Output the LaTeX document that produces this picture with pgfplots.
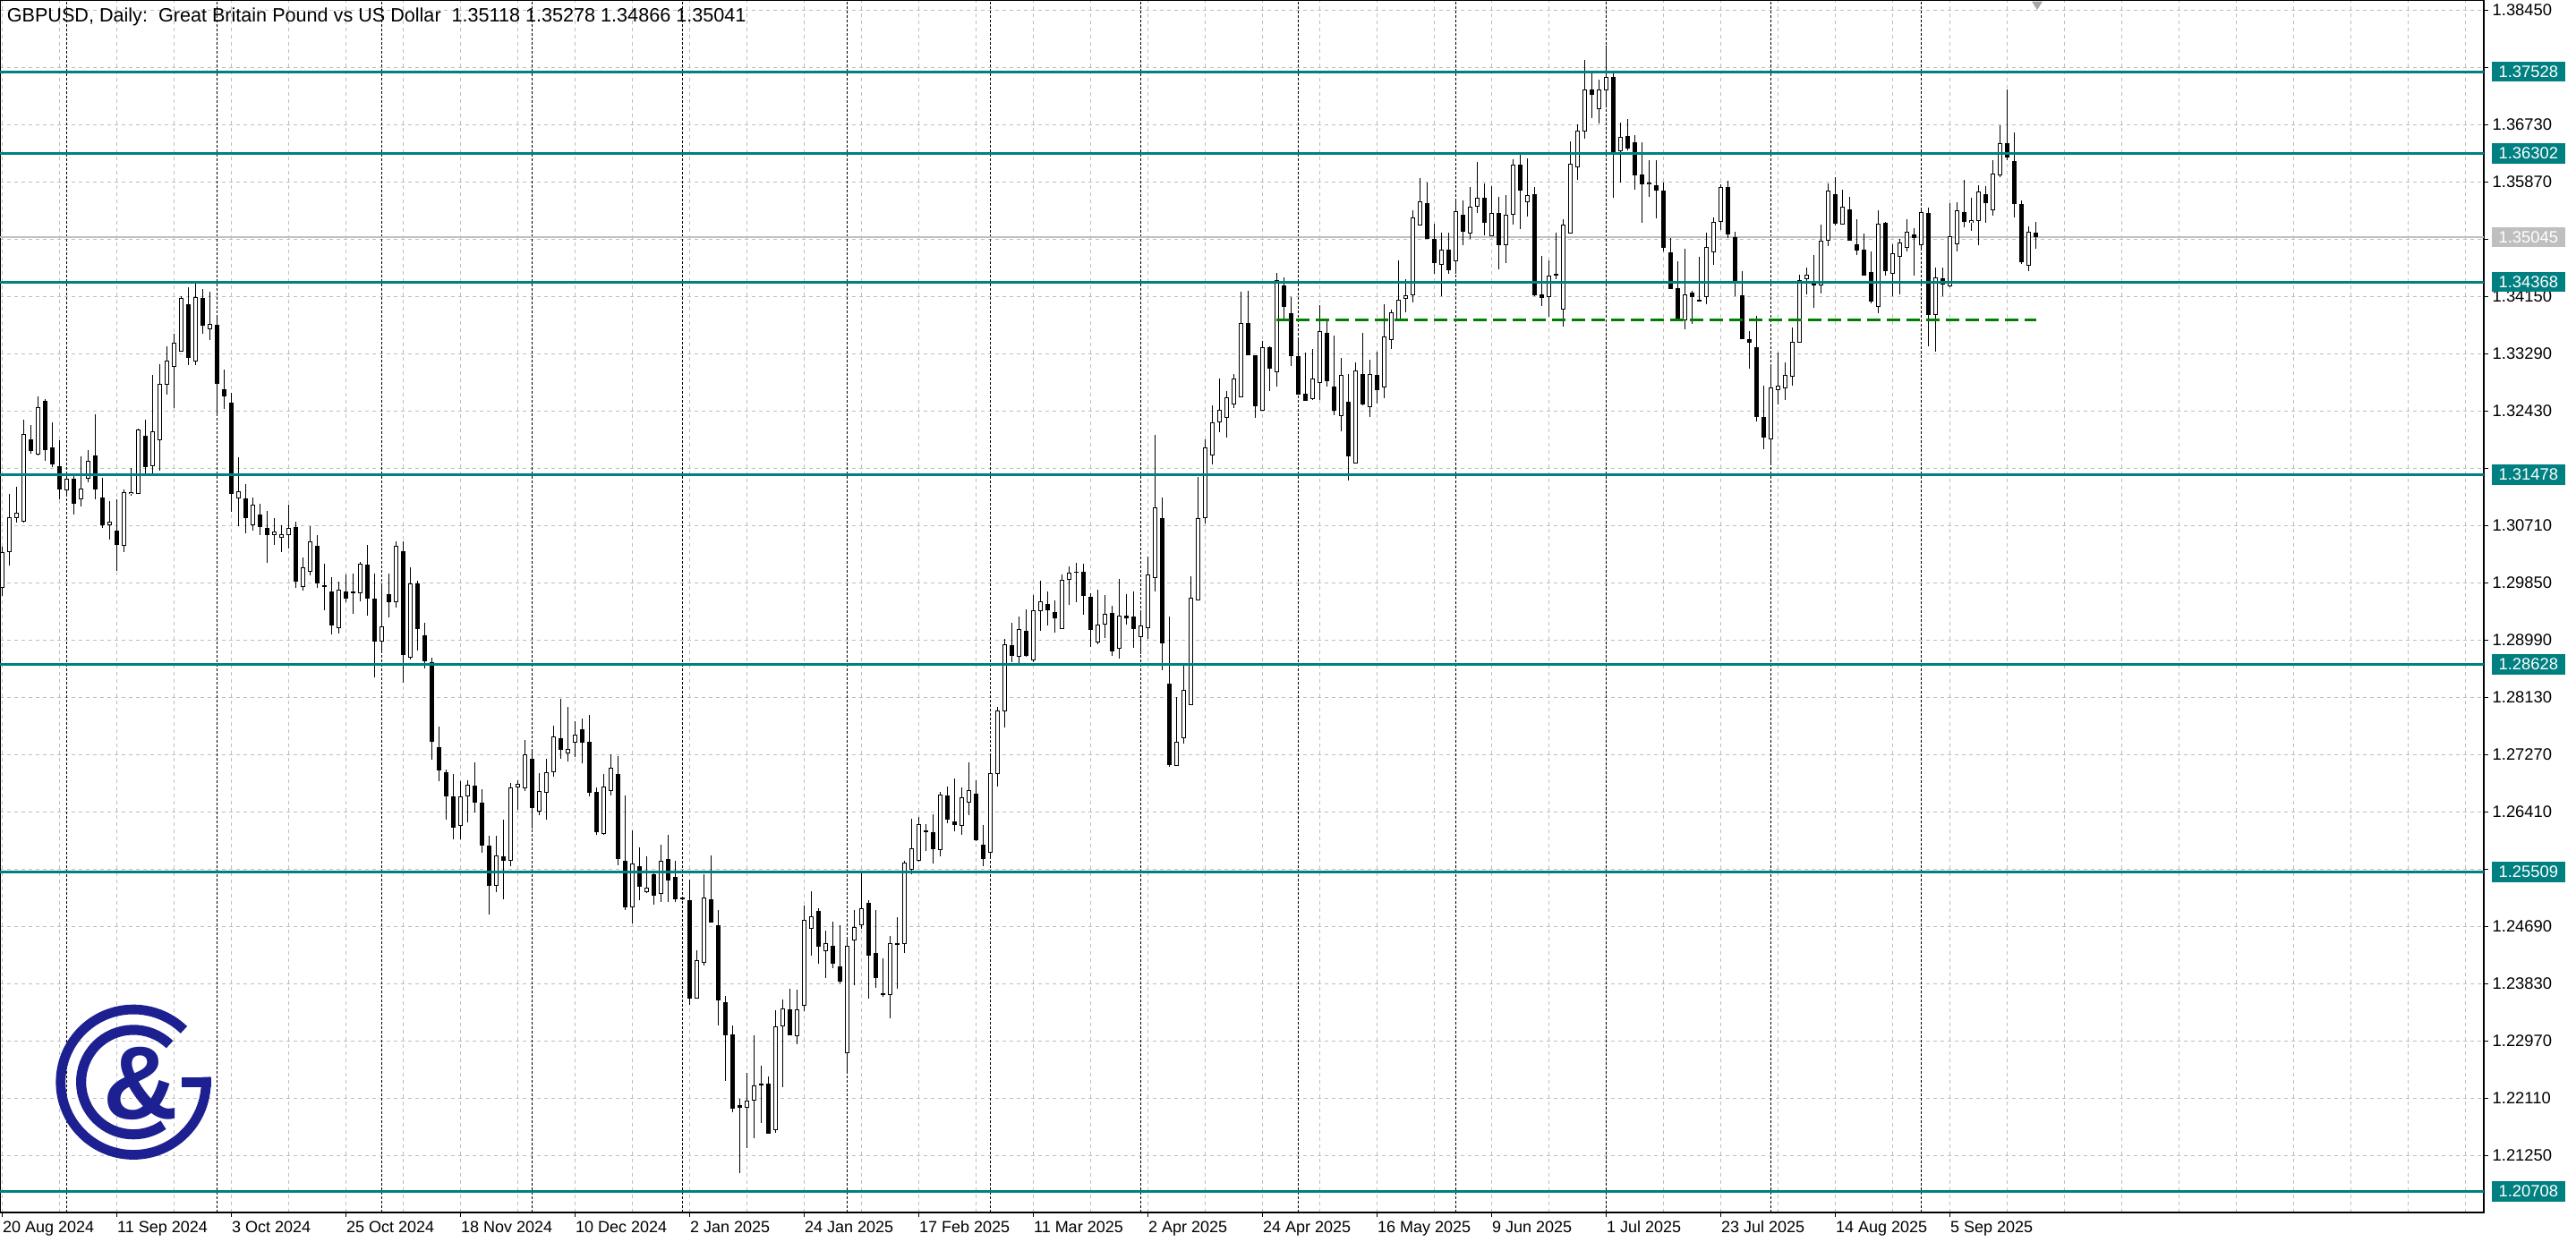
\documentclass[border=0pt]{standalone}
\usepackage{fontspec}
\setmainfont{Liberation Sans}
\usepackage{pgfplots}
\usepackage{pgfplotstable}
\pgfplotsset{compat=1.18}
\definecolor{mtteal}{RGB}{0,128,128}
\definecolor{mtgreen}{RGB}{0,128,0}
\definecolor{mtgrid}{RGB}{190,190,190}
\definecolor{logoblue}{RGB}{28,32,145}

\pgfplotstableread{
i o h l c
0 1.2977 1.3040 1.2965 1.3031
1 1.30309 1.31182 1.30107 1.30833
2 1.30820 1.31290 1.30757 1.30900
3 1.30766 1.32298 1.30757 1.32088
4 1.32007 1.32226 1.31796 1.31828
5 1.31774 1.32648 1.31765 1.32491
6 1.32580 1.32616 1.31684 1.31841
7 1.31882 1.32258 1.31595 1.31626
8 1.31604 1.31994 1.31102 1.31259
9 1.31236 1.31483 1.31169 1.31416
10 1.31416 1.31460 1.30878 1.31035
11 1.31102 1.31752 1.30999 1.31272
12 1.31416 1.31850 1.31357 1.31684
13 1.31765 1.32379 1.31102 1.31259
14 1.31133 1.31425 1.30676 1.30721
15 1.30712 1.31080 1.30497 1.30766
16 1.30632 1.31102 1.30027 1.30417
17 1.30408 1.31259 1.30318 1.31214
18 1.31183 1.31572 1.31156 1.31214
19 1.31192 1.32164 1.31183 1.32155
20 1.32056 1.32298 1.31483 1.31595
21 1.31604 1.32975 1.31483 1.32123
22 1.31989 1.33140 1.31541 1.32836
23 1.32827 1.33400 1.32683 1.33185
24 1.33096 1.33588 1.32482 1.33454
25 1.33329 1.34157 1.33320 1.34126
26 1.34036 1.34292 1.33127 1.33230
27 1.33172 1.34350 1.33127 1.34139
28 1.34126 1.34269 1.33597 1.33709
29 1.33656 1.34225 1.33499 1.33736
30 1.33723 1.33880 1.32379 1.32836
31 1.32760 1.33051 1.32459 1.32657
32 1.32558 1.32701 1.30923 1.31192
33 1.31124 1.31738 1.30699 1.31227
34 1.31115 1.31335 1.30600 1.30820
35 1.30712 1.31133 1.30641 1.31021
36 1.30878 1.31035 1.30564 1.30690
37 1.30676 1.30932 1.30148 1.30564
38 1.30564 1.30820 1.30417 1.30618
39 1.30533 1.30721 1.30309 1.30578
40 1.30564 1.31021 1.30363 1.30676
41 1.30690 1.30766 1.29771 1.29870
42 1.29794 1.30237 1.29736 1.30085
43 1.30013 1.30708 1.29969 1.30475
44 1.30408 1.30573 1.29771 1.29839
45 1.29812 1.30139 1.29444 1.29798
46 1.29722 1.29937 1.29073 1.29207
47 1.29167 1.29870 1.29086 1.29749
48 1.29722 1.29973 1.29556 1.29610
49 1.29695 1.29995 1.29385 1.29721
50 1.29690 1.30169 1.29578 1.30138
51 1.30125 1.30420 1.29363 1.29609
52 1.29614 1.29990 1.28436 1.28973
53 1.28973 1.29802 1.28839 1.29197
54 1.29681 1.29990 1.29332 1.29556
55 1.29556 1.30474 1.29475 1.30407
56 1.30326 1.30474 1.28346 1.28772
57 1.28727 1.30084 1.28704 1.29847
58 1.29847 1.29878 1.28839 1.29161
59 1.29063 1.29251 1.28570 1.28669
60 1.28660 1.28727 1.27190 1.27459
61 1.27383 1.27696 1.26868 1.27033
62 1.27000 1.27050 1.26300 1.26650
63 1.26650 1.26980 1.26000 1.26170
64 1.26200 1.26870 1.26000 1.26650
65 1.26650 1.26890 1.26250 1.26820
66 1.26800 1.27150 1.26400 1.26550
67 1.26550 1.26750 1.25800 1.25900
68 1.25900 1.26050 1.24870 1.25300
69 1.25300 1.26050 1.25200 1.25750
70 1.25750 1.26300 1.25100 1.25680
71 1.25681 1.26850 1.25600 1.26778
72 1.26778 1.26890 1.26442 1.26836
73 1.26769 1.27495 1.26724 1.27271
74 1.27204 1.27352 1.26164 1.26474
75 1.26420 1.26993 1.26366 1.26720
76 1.26702 1.27204 1.26299 1.27002
77 1.27002 1.27706 1.26935 1.27540
78 1.27517 1.28109 1.27213 1.27347
79 1.27284 1.27988 1.27172 1.27361
80 1.27450 1.27773 1.27235 1.27576
81 1.27652 1.27809 1.27137 1.27450
82 1.27464 1.27867 1.26644 1.26698
83 1.26711 1.26778 1.26070 1.26106
84 1.26075 1.26980 1.26061 1.26792
85 1.26724 1.27271 1.26657 1.27069
86 1.26980 1.27249 1.25613 1.25703
87 1.25681 1.26653 1.24941 1.24977
88 1.24977 1.26129 1.24740 1.25636
89 1.25591 1.25873 1.25089 1.25291
90 1.25210 1.25739 1.25188 1.25268
91 1.25479 1.25524 1.25017 1.25156
92 1.25174 1.25918 1.25053 1.25681
93 1.25703 1.26061 1.25053 1.25376
94 1.25434 1.25681 1.25053 1.25098
95 1.25120 1.25130 1.25090 1.25110
96 1.25085 1.25399 1.23517 1.23611
97 1.23611 1.24328 1.23611 1.24180
98 1.24149 1.25479 1.24099 1.25121
99 1.25098 1.25757 1.24753 1.24753
100 1.24709 1.24933 1.23208 1.23584
101 1.23553 1.23642 1.22375 1.23060
102 1.23069 1.23203 1.21904 1.21949
103 1.22007 1.22097 1.20990 1.21971
104 1.21962 1.22491 1.21358 1.22074
105 1.22074 1.23060 1.21514 1.22298
106 1.22321 1.22603 1.21738 1.22321
107 1.22330 1.22433 1.21582 1.21582
108 1.21635 1.23432 1.21595 1.23185
109 1.23194 1.23598 1.22276 1.23463
110 1.23441 1.23750 1.23060 1.23060
111 1.23038 1.23741 1.22926 1.23441
112 1.23495 1.25009 1.23418 1.24785
113 1.24650 1.25219 1.24256 1.24839
114 1.24919 1.24964 1.24135 1.24391
115 1.24314 1.24628 1.23920 1.24435
116 1.24395 1.24762 1.24068 1.24126
117 1.24090 1.24704 1.23831 1.23866
118 1.22791 1.24529 1.22487 1.24404
119 1.24486 1.24931 1.23804 1.24681
120 1.24713 1.25500 1.24659 1.24963
121 1.25045 1.25091 1.23604 1.24258
122 1.24286 1.24931 1.23763 1.23917
123 1.23690 1.24213 1.23636 1.23658
124 1.23667 1.24545 1.23317 1.24440
125 1.24431 1.24831 1.23758 1.24436
126 1.24431 1.25682 1.24295 1.25650
127 1.25536 1.26305 1.25477 1.25864
128 1.25682 1.26341 1.25668 1.26227
129 1.26136 1.26227 1.25827 1.26105
130 1.26105 1.26377 1.25636 1.25850
131 1.25841 1.26714 1.25741 1.26673
132 1.26659 1.26787 1.26241 1.26296
133 1.26264 1.26909 1.26123 1.26214
134 1.26205 1.26773 1.26068 1.26627
135 1.26546 1.27159 1.26364 1.26737
136 1.26682 1.26887 1.25977 1.25986
137 1.25923 1.26214 1.25600 1.25704
138 1.25804 1.27250 1.25736 1.26991
139 1.26987 1.27992 1.26796 1.27932
140 1.27923 1.29015 1.27682 1.28933
141 1.28919 1.29251 1.28660 1.28760
142 1.28742 1.29350 1.28650 1.29160
143 1.29128 1.29458 1.28737 1.28760
144 1.28688 1.29667 1.28663 1.29433
145 1.29423 1.29880 1.29135 1.29572
146 1.29533 1.29721 1.29209 1.29443
147 1.29418 1.29592 1.29110 1.29319
148 1.29160 1.29980 1.29160 1.29895
149 1.29895 1.30104 1.29518 1.30005
150 1.30024 1.30154 1.29557 1.30005
151 1.30015 1.30139 1.29369 1.29657
152 1.29642 1.29692 1.28886 1.29145
153 1.28951 1.29746 1.28936 1.29219
154 1.29219 1.29667 1.29021 1.29383
155 1.29398 1.29508 1.28752 1.28822
156 1.28862 1.29915 1.28712 1.29359
157 1.29359 1.29682 1.29219 1.29319
158 1.29349 1.29721 1.28872 1.29160
159 1.29036 1.29408 1.28777 1.29209
160 1.29175 1.30253 1.29011 1.29980
161 1.29930 1.32077 1.29716 1.30989
162 1.30825 1.31138 1.28539 1.28946
163 1.28340 1.29344 1.27082 1.27112
164 1.27107 1.28141 1.27107 1.27460
165 1.27520 1.28613 1.27435 1.28250
166 1.28017 1.29955 1.28017 1.29632
167 1.29592 1.31446 1.29592 1.30825
168 1.30820 1.32011 1.30750 1.31885
169 1.31760 1.32521 1.31630 1.32257
170 1.32257 1.32916 1.32118 1.32445
171 1.32324 1.32727 1.32029 1.32638
172 1.32535 1.32983 1.32481 1.32916
173 1.32638 1.34224 1.32638 1.33753
174 1.33753 1.34237 1.33265 1.33274
175 1.33265 1.33265 1.32333 1.32499
176 1.32432 1.33485 1.32432 1.33386
177 1.33395 1.33408 1.32736 1.33063
178 1.33014 1.34506 1.32804 1.34394
179 1.34318 1.34439 1.33812 1.33991
180 1.33901 1.34148 1.33104 1.33252
181 1.33261 1.33498 1.32683 1.32683
182 1.32692 1.33310 1.32580 1.32580
183 1.32611 1.33364 1.32602 1.32916
184 1.32848 1.34027 1.32602 1.33632
185 1.33601 1.33798 1.32804 1.32884
186 1.32795 1.33565 1.32365 1.32432
187 1.32356 1.33229 1.32123 1.32969
188 1.32566 1.32983 1.31392 1.31751
189 1.31639 1.33162 1.31639 1.33037
190 1.32992 1.33601 1.32512 1.32535
191 1.32490 1.33200 1.32350 1.32983
192 1.32980 1.33320 1.32550 1.32750
193 1.32780 1.34036 1.32620 1.33553
194 1.33499 1.33956 1.33364 1.33911
195 1.33812 1.34695 1.33777 1.34104
196 1.34113 1.34408 1.33911 1.34171
197 1.34171 1.35448 1.34059 1.35336
198 1.35215 1.35927 1.35215 1.35582
199 1.35551 1.35864 1.35022 1.35022
200 1.35013 1.35246 1.34498 1.34650
201 1.34632 1.35112 1.34157 1.34852
202 1.34856 1.35112 1.34493 1.34543
203 1.34686 1.35595 1.34498 1.35434
204 1.35380 1.35595 1.34923 1.35121
205 1.35103 1.35797 1.35022 1.35501
206 1.35501 1.36173 1.35403 1.35640
207 1.35636 1.35851 1.35076 1.35255
208 1.35053 1.35806 1.35053 1.35403
209 1.35403 1.35649 1.34565 1.34919
210 1.34919 1.35681 1.34650 1.35380
211 1.35380 1.36218 1.35237 1.36133
212 1.36133 1.36276 1.35165 1.35739
213 1.35573 1.36232 1.35358 1.35681
214 1.35694 1.35793 1.34157 1.34171
215 1.34179 1.34762 1.34014 1.34126
216 1.34139 1.34699 1.33843 1.34462
217 1.34484 1.35111 1.34417 1.34480
218 1.33955 1.35313 1.33700 1.35232
219 1.35098 1.36487 1.35098 1.36142
220 1.36097 1.36733 1.35909 1.36643
221 1.36634 1.37710 1.36522 1.37262
222 1.37262 1.37508 1.36836 1.37185
223 1.36961 1.37409 1.36755 1.37262
224 1.37253 1.37920 1.36993 1.37450
225 1.37450 1.37508 1.35640 1.36321
226 1.36330 1.36760 1.35864 1.36545
227 1.36558 1.36814 1.36352 1.36379
228 1.36469 1.36576 1.35761 1.35976
229 1.35985 1.36469 1.35259 1.35837
230 1.35837 1.36200 1.35649 1.35864
231 1.35828 1.36200 1.35326 1.35738
232 1.35747 1.35859 1.34833 1.34887
233 1.34811 1.35035 1.34260 1.34260
234 1.34273 1.34677 1.33799 1.33799
235 1.33799 1.34874 1.33655 1.34181
236 1.34206 1.34238 1.33745 1.34148
237 1.34094 1.34753 1.34072 1.34090
238 1.34139 1.35111 1.34036 1.34896
239 1.34820 1.35344 1.34628 1.35268
240 1.35268 1.35837 1.35147 1.35797
241 1.35797 1.35886 1.35035 1.35089
242 1.35044 1.35120 1.34162 1.34386
243 1.34171 1.34529 1.33508 1.33508
244 1.33508 1.33633 1.33073 1.33454
245 1.33387 1.33866 1.32276 1.32347
246 1.32343 1.32813 1.31863 1.32029
247 1.32011 1.33118 1.31617 1.32782
248 1.32750 1.33310 1.32535 1.32818
249 1.32768 1.33163 1.32603 1.32970
250 1.32952 1.33687 1.32818 1.33467
251 1.33454 1.34484 1.33454 1.34404
252 1.34408 1.34587 1.34184 1.34475
253 1.34350 1.34775 1.33990 1.34314
254 1.34314 1.35232 1.34202 1.34986
255 1.34986 1.35851 1.34910 1.35739
256 1.35685 1.35940 1.35214 1.35246
257 1.35237 1.35752 1.35237 1.35506
258 1.35456 1.35649 1.34986 1.34986
259 1.34932 1.35313 1.34775 1.34843
260 1.34856 1.35102 1.34462 1.34462
261 1.34516 1.34829 1.34050 1.34081
262 1.33991 1.35448 1.33902 1.35240
263 1.35255 1.35269 1.34471 1.34538
264 1.34498 1.34933 1.34162 1.34798
265 1.34744 1.35022 1.34180 1.34968
266 1.34888 1.35313 1.34830 1.35121
267 1.35080 1.35179 1.34471 1.35031
268 1.34919 1.35493 1.34843 1.35425
269 1.35403 1.35493 1.33409 1.33880
270 1.33871 1.34583 1.33329 1.34440
271 1.34426 1.34583 1.34162 1.34328
272 1.34305 1.35560 1.34296 1.35054
273 1.34933 1.35573 1.34830 1.35448
274 1.35416 1.35905 1.35193 1.35269
275 1.35255 1.35636 1.35134 1.35300
276 1.35291 1.35829 1.34919 1.35726
277 1.35694 1.35815 1.35255 1.35560
278 1.35448 1.36200 1.35372 1.35994
279 1.35972 1.36725 1.35941 1.36456
280 1.36456 1.37262 1.36200 1.36245
281 1.36187 1.36613 1.35345 1.35537
282 1.35537 1.35596 1.34641 1.34673
283 1.34610 1.35210 1.34538 1.35121
284 1.35118 1.35278 1.34866 1.35041
}\ohlc

\begin{document}
\begin{tikzpicture}
\begin{axis}[
  at={(0pt,8.25pt)}, anchor=south west,
  scale only axis, width=693.75pt, height=338.75pt,
  xmin=-0.2875, xmax=346.6,
  ymin=1.20394, ymax=1.38606,
  clip mode=individual,
  axis line style={black, line width=0.3pt},
  tick align=outside,
  major tick length=1.2pt, minor tick length=0pt,
  tick style={black, line width=0.25pt},
  xtick pos=bottom, ytick pos=right,
  yticklabel pos=right,
  xtick={0,16,...,272},
  xticklabels={20 Aug 2024,11 Sep 2024,3 Oct 2024,25 Oct 2024,18 Nov 2024,10 Dec 2024,2 Jan 2025,24 Jan 2025,17 Feb 2025,11 Mar 2025,2 Apr 2025,24 Apr 2025,16 May 2025,9 Jun 2025,1 Jul 2025,23 Jul 2025,14 Aug 2025,5 Sep 2025},
  minor xtick={8,24,40,56,72,88,104,120,136,152,168,184,200,216,232,248,264,280,288,296,304,312,320,328,336,344},
  extra x ticks={9,30,53,74,95,118,138,159,181,203,224,247,268},
  extra x tick labels={},
  extra x tick style={grid=major, major tick length=0pt, major grid style={black, line width=0.3pt, dash pattern=on 0.75pt off 0.5pt}},
  ytick={1.2125,1.2211,1.2297,1.2383,1.2469,1.2555,1.2641,1.2727,1.2813,1.2899,1.2985,1.3071,1.3157,1.3243,1.3329,1.3415,1.3501,1.3587,1.3673,1.3759,1.3845},
  yticklabels={1.21250,1.22110,1.22970,1.23830,1.24690,,1.26410,1.27270,1.28130,1.28990,1.29850,1.30710,,1.32430,1.33290,1.34150,,1.35870,1.36730,,1.38450},
  xmajorgrids, xminorgrids, ymajorgrids,
  major grid style={mtgrid, line width=0.25pt, dash pattern=on 1pt off 1pt},
  minor grid style={mtgrid, line width=0.25pt, dash pattern=on 1pt off 1pt},
  xticklabel style={font=\fontsize{4.5}{5}\selectfont, anchor=north west, inner sep=0pt, yshift=-1pt},
  yticklabel style={font=\fontsize{4.6}{5}\selectfont, anchor=west, inner sep=0pt, xshift=1pt},
]
% current price line
\addplot[black!25, line width=0.3pt] coordinates {(-0.2875,1.35045) (346.6,1.35045)};
% wicks
\addplot[only marks, mark options={draw=none, fill=none}, mark size=0pt,
  error bars/.cd, y dir=both, y explicit, error mark=none,
  error bar style={black, line width=0.3pt}]
  table[x=i, y expr={(\thisrow{h}+\thisrow{l})/2}, y error expr={(\thisrow{h}-\thisrow{l})/2}] {\ohlc};
% bodies (outline / filled)
\addplot[only marks, mark options={draw=none, fill=none}, mark size=0pt,
  error bars/.cd, y dir=both, y explicit, error mark=none,
  error bar style={black, line width=1.25pt, line cap=butt}]
  table[x=i, y expr={(\thisrow{o}+\thisrow{c})/2}, y error expr={max(abs(\thisrow{c}-\thisrow{o})/2,0.000067)}] {\ohlc};
% hollow bull bodies
\addplot[only marks, mark options={draw=none, fill=none}, mark size=0pt,
  error bars/.cd, y dir=both, y explicit, error mark=none,
  error bar style={white, line width=0.75pt, line cap=butt}]
  table[x=i, y expr={(\thisrow{o}+\thisrow{c})/2}, y error expr={(\thisrow{c}>\thisrow{o})*max((\thisrow{c}-\thisrow{o})/2-0.000134,0)}] {\ohlc};
% support / resistance lines
\addplot[mtteal, line width=0.75pt] coordinates {(-0.2875,1.37528) (346.6,1.37528)};
\addplot[mtteal, line width=0.75pt] coordinates {(-0.2875,1.36302) (346.6,1.36302)};
\addplot[mtteal, line width=0.75pt] coordinates {(-0.2875,1.34368) (346.6,1.34368)};
\addplot[mtteal, line width=0.75pt] coordinates {(-0.2875,1.31478) (346.6,1.31478)};
\addplot[mtteal, line width=0.75pt] coordinates {(-0.2875,1.28628) (346.6,1.28628)};
\addplot[mtteal, line width=0.75pt] coordinates {(-0.2875,1.25509) (346.6,1.25509)};
\addplot[mtteal, line width=0.75pt] coordinates {(-0.2875,1.20708) (346.6,1.20708)};
\addplot[mtgreen, line width=0.55pt, dash pattern=on 3.75pt off 1.75pt] coordinates {(178,1.3380) (284.1,1.3380)};
% price boxes
\tikzset{pbox/.style={anchor=west, xshift=2pt, text=white, inner sep=0pt, minimum width=20.5pt, minimum height=5.6pt, font=\fontsize{4.6}{5}\selectfont}}
\node[pbox, fill=mtteal] at (axis cs:346.6,1.37528) {1.37528};
\node[pbox, fill=mtteal] at (axis cs:346.6,1.36302) {1.36302};
\node[pbox, fill=black!25] at (axis cs:346.6,1.35045) {1.35045};
\node[pbox, fill=mtteal] at (axis cs:346.6,1.34368) {1.34368};
\node[pbox, fill=mtteal] at (axis cs:346.6,1.31478) {1.31478};
\node[pbox, fill=mtteal] at (axis cs:346.6,1.28628) {1.28628};
\node[pbox, fill=mtteal] at (axis cs:346.6,1.25509) {1.25509};
\node[pbox, fill=mtteal] at (axis cs:346.6,1.20708) {1.20708};
% title
\node[anchor=north west, inner sep=0pt, font=\fontsize{5.4}{6}\selectfont] at (rel axis cs:0,1) [xshift=1.75pt, yshift=-2pt] {GBPUSD, Daily:\ \ Great Britain Pound vs US Dollar\ \ 1.35118 1.35278 1.34866 1.35041};
\end{axis}
% shift marker
\fill[black!35] (567.5pt,346.6pt) -- (570.5pt,346.6pt) -- (569pt,344.2pt) -- cycle;
% logo
\begin{scope}[logoblue, line cap=butt]
  \draw[line width=2.7pt] (37.25pt,44.67pt) ++(46:20.3pt) arc[start angle=46, end angle=364, radius=20.3pt];
  \draw[line width=2.75pt] (50.8pt,44.67pt) -- (59.05pt,44.67pt);
  \draw[line width=2.8pt] (37.25pt,44.67pt) ++(46:14.6pt) arc[start angle=46, end angle=305, radius=14.6pt];
  \node[inner sep=0pt, font=\fontsize{29}{29}\selectfont\bfseries] at (39.4pt,44.2pt) {\&};
\end{scope}
\pgfresetboundingbox
\useasboundingbox (0,0) rectangle (719.5pt,347pt);
\end{tikzpicture}
\end{document}
